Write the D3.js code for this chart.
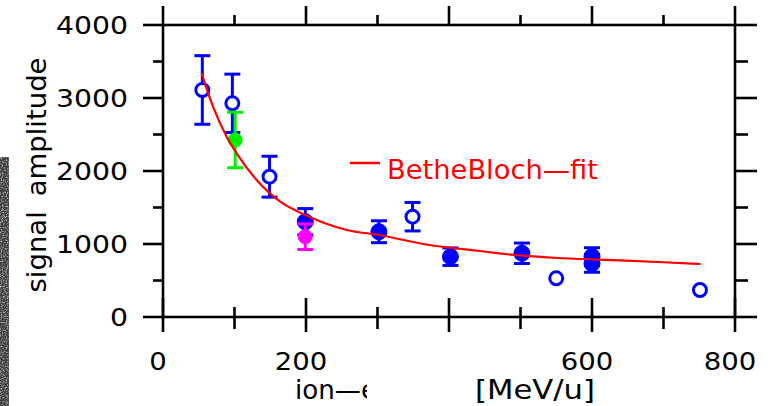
<!DOCTYPE html>
<html>
<head>
<meta charset="utf-8">
<script src="https://cdn.jsdelivr.net/npm/d3@7"></script>
<style>
  body { margin: 0; background: #fff; }
  svg { display: block; }
  text { font-family: "DejaVu Sans", sans-serif; }
</style>
</head>
<body>
<div id="chart"></div>
<script>
var width = 773;
var height = 406;

// open blue circles
var openEnergy = [55, 97, 149, 349, 550, 751];
var openSignal = [3110, 2927, 1922, 1374, 530, 370];
var openErr = [470, 400, 280, 195, 0, 0];

// filled blue points
var filledEnergy = [199, 302, 402, 502, 600, 600];
var filledSignal = [1305, 1168, 826, 873, 829, 733];
var filledErr = [180, 150, 120, 140, 120, 120];

// single green and magenta points
var greenEnergy = [101];
var greenSignal = [2425];
var greenErr = [380];
var magentaEnergy = [199];
var magentaSignal = [1100];
var magentaErr = [175];

// Bethe-Bloch fit
var fitEnergy = [54, 70, 89, 103, 131, 164, 199, 257, 302, 373, 443, 502, 560, 639, 700, 752];
var fitSignal = [3338, 2881, 2470, 2242, 1877, 1579, 1397, 1192, 1123, 986, 904, 840, 805, 775, 750, 726];

var xTicks = [0, 200, 600, 800]; // the 400 label is hidden in the original
var yTicks = [0, 1000, 2000, 3000, 4000];

var xScale = d3.scaleLinear().domain([0, 800]).range([163, 735]);
var yScale = d3.scaleLinear().domain([0, 4000]).range([317, 25]);

var svg = d3.select("#chart")
  .append("svg")
  .attr("width", width)
  .attr("height", height);

// scanned edge strip on the far left
var defs = svg.append("defs");
var noise = defs.append("filter").attr("id", "grain")
  .attr("filterUnits", "userSpaceOnUse")
  .attr("x", 0).attr("y", 157).attr("width", 9).attr("height", 249);
noise.append("feTurbulence").attr("type", "fractalNoise").attr("baseFrequency", 0.8).attr("numOctaves", 2).attr("seed", 5);
noise.append("feColorMatrix").attr("type", "matrix")
  .attr("values", "0 0 0 0 0.85  0 0 0 0 0.85  0 0 0 0 0.85  2.2 0 0 0 -1.0");
svg.append("rect").attr("x", 0).attr("y", 157).attr("width", 9).attr("height", 249).attr("fill", "#3c3c3c");
svg.append("rect").attr("x", 0).attr("y", 157).attr("width", 9).attr("height", 249)
  .attr("fill", "#fff").attr("filter", "url(#grain)");

defs.append("clipPath").attr("id", "titleClip")
  .append("rect").attr("x", 0).attr("y", 0).attr("width", 367).attr("height", height);

var axisColor = "#000";
var axisWidth = 2.6;

// frame
svg.append("rect")
  .attr("x", xScale(0)).attr("y", yScale(4000))
  .attr("width", xScale(800) - xScale(0))
  .attr("height", yScale(0) - yScale(4000))
  .attr("fill", "none").attr("stroke", axisColor).attr("stroke-width", axisWidth);

var xMajor = d3.range(0, 801, 200);
var xMinor = d3.range(100, 800, 200);
var yMajor = d3.range(0, 4001, 1000);
var yMinor = d3.range(500, 4000, 1000);

var ticks = svg.append("g").attr("stroke", axisColor).attr("stroke-width", axisWidth);

// bottom: ticks cross the axis
ticks.selectAll(".bmaj").data(xMajor).enter().append("line")
  .attr("x1", d => xScale(d)).attr("x2", d => xScale(d))
  .attr("y1", yScale(0) - 19).attr("y2", yScale(0) + 15);
ticks.selectAll(".bmin").data(xMinor).enter().append("line")
  .attr("x1", d => xScale(d)).attr("x2", d => xScale(d))
  .attr("y1", yScale(0) - 10).attr("y2", yScale(0) + 12);
// top: ticks outward
ticks.selectAll(".tmaj").data(xMajor).enter().append("line")
  .attr("x1", d => xScale(d)).attr("x2", d => xScale(d))
  .attr("y1", yScale(4000)).attr("y2", yScale(4000) - 19);
ticks.selectAll(".tmin").data(xMinor).enter().append("line")
  .attr("x1", d => xScale(d)).attr("x2", d => xScale(d))
  .attr("y1", yScale(4000)).attr("y2", yScale(4000) - 10);
// left: ticks outward
ticks.selectAll(".lmaj").data(yMajor).enter().append("line")
  .attr("x1", xScale(0) - 20).attr("x2", xScale(0))
  .attr("y1", d => yScale(d)).attr("y2", d => yScale(d));
ticks.selectAll(".lmin").data(yMinor).enter().append("line")
  .attr("x1", xScale(0) - 10).attr("x2", xScale(0))
  .attr("y1", d => yScale(d)).attr("y2", d => yScale(d));
// right: ticks outward
ticks.selectAll(".rmaj").data(yMajor).enter().append("line")
  .attr("x1", xScale(800)).attr("x2", xScale(800) + 22)
  .attr("y1", d => yScale(d)).attr("y2", d => yScale(d));
ticks.selectAll(".rmin").data(yMinor).enter().append("line")
  .attr("x1", xScale(800)).attr("x2", xScale(800) + 13)
  .attr("y1", d => yScale(d)).attr("y2", d => yScale(d));

// tick labels (wide, round glyphs as in the original)
svg.append("g").selectAll("text").data(yTicks).enter().append("text")
  .attr("x", 128).attr("y", d => yScale(d))
  .attr("dy", "0.36em")
  .attr("text-anchor", "end")
  .style("font-size", "25px")
  .attr("textLength", d => String(d).length * 18).attr("lengthAdjust", "spacingAndGlyphs")
  .text(d => d);

svg.append("g").selectAll("text").data(xTicks).enter().append("text")
  .attr("x", d => xScale(d) - 5).attr("y", 370)
  .attr("text-anchor", "middle")
  .style("font-size", "25px")
  .attr("textLength", d => String(d).length * 17.5).attr("lengthAdjust", "spacingAndGlyphs")
  .text(d => d);

// axis titles
svg.append("text")
  .attr("transform", "translate(46," + 175 + ") rotate(-90)")
  .attr("text-anchor", "middle")
  .style("font-size", "27px")
  .style("word-spacing", "6px")
  .attr("textLength", 235).attr("lengthAdjust", "spacingAndGlyphs")
  .text("signal amplitude");

svg.append("text")
  .attr("x", 295).attr("y", 399)
  .attr("clip-path", "url(#titleClip)")
  .style("font-size", "27px")
  .attr("textLength", 82).attr("lengthAdjust", "spacingAndGlyphs")
  .text("ion\u2014e");

svg.append("text")
  .attr("x", 475).attr("y", 399)
  .style("font-size", "27px")
  .attr("textLength", 120).attr("lengthAdjust", "spacingAndGlyphs")
  .text("[MeV/u]");

// error bars + markers
function drawSeries(energy, signal, err, color, filled, r) {
  var rows = energy.map(function(e, i) {
    return { e: e, s: signal[i], err: err[i] };
  });
  var g = svg.append("g").attr("stroke", color).attr("stroke-width", 3);
  var withErr = rows.filter(d => d.err > 0);
  g.selectAll(".bar").data(withErr).enter().append("line")
    .attr("x1", d => xScale(d.e)).attr("x2", d => xScale(d.e))
    .attr("y1", d => yScale(d.s + d.err)).attr("y2", d => yScale(d.s - d.err));
  g.selectAll(".capTop").data(withErr).enter().append("line")
    .attr("x1", d => xScale(d.e) - 8).attr("x2", d => xScale(d.e) + 8)
    .attr("y1", d => yScale(d.s + d.err)).attr("y2", d => yScale(d.s + d.err));
  g.selectAll(".capBot").data(withErr).enter().append("line")
    .attr("x1", d => xScale(d.e) - 8).attr("x2", d => xScale(d.e) + 8)
    .attr("y1", d => yScale(d.s - d.err)).attr("y2", d => yScale(d.s - d.err));
  g.selectAll("circle").data(rows).enter().append("circle")
    .attr("cx", d => xScale(d.e)).attr("cy", d => yScale(d.s))
    .attr("r", r)
    .attr("fill", filled ? color : "#fff")
    .attr("stroke-width", filled ? 1 : 3);
}

drawSeries(openEnergy, openSignal, openErr, "#0000ff", false, 6.5);
drawSeries(greenEnergy, greenSignal, greenErr, "#00ee00", true, 7);
drawSeries(filledEnergy, filledSignal, filledErr, "#0000ff", true, 8);
drawSeries(magentaEnergy, magentaSignal, magentaErr, "#ff00ff", true, 7);

// fit curve
var fitLine = d3.line()
  .x(d => xScale(d[0]))
  .y(d => yScale(d[1]))
  .curve(d3.curveMonotoneX);

svg.append("path")
  .datum(fitEnergy.map((e, i) => [e, fitSignal[i]]))
  .attr("d", fitLine)
  .attr("fill", "none")
  .attr("stroke", "#ff0000")
  .attr("stroke-width", 2.2);

// legend
svg.append("line")
  .attr("x1", 350).attr("x2", 380).attr("y1", 163).attr("y2", 163)
  .attr("stroke", "#ff0000").attr("stroke-width", 2.5);
svg.append("text")
  .attr("x", 387).attr("y", 179)
  .attr("fill", "#ff0000")
  .style("font-size", "26px")
  .attr("textLength", 211).attr("lengthAdjust", "spacingAndGlyphs")
  .text("BetheBloch\u2014fit");
</script>
</body>
</html>
